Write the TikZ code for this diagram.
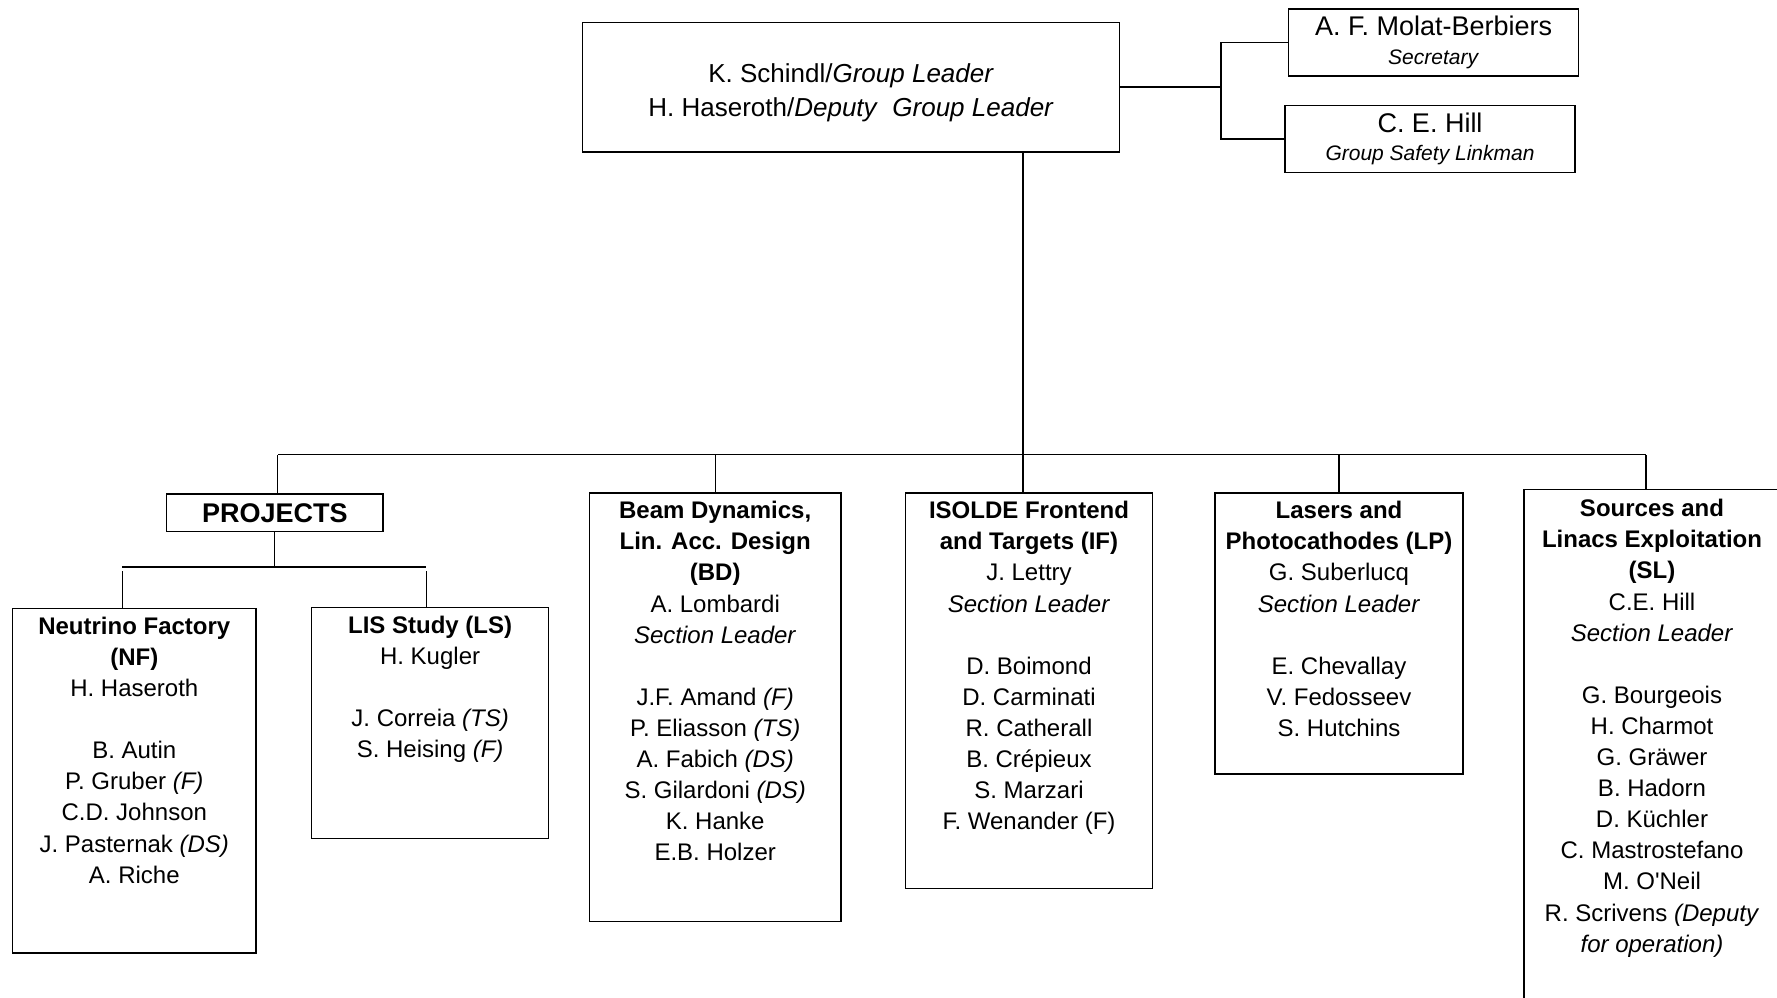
\documentclass[tikz,border=0pt]{standalone}
\usepackage{fontspec}
\setmainfont{Liberation Sans}
\usetikzlibrary{positioning}
\tikzset{
  box/.style={draw, line width=0.7pt, inner sep=0pt},
  txt/.style={align=center, inner sep=0pt, font=\fontsize{12}{15.55}\selectfont, execute at begin node=\strut},
  link/.style={line width=0.6pt},
  bus/.style={line width=0.9pt}
}
\newcommand{\secgap}{\\[15.55pt]}
\begin{document}
\begin{tikzpicture}[x=0.5pt, y=-0.5pt]
    \useasboundingbox (0,0) rectangle (1777,997);
    \clip (0,0) rectangle (1777,997);
    % group leaders
    \node[box, minimum width=268.6pt, minimum height=64.6pt] (lead) at (851.1,87.3) {};
    \node[align=center, inner sep=0pt, font=\fontsize{13}{17}\selectfont, yshift=-2.8pt] (lead-t) at (lead.center)
        {K. Schindl/\textit{Group Leader}\\H. Haseroth/\textit{Deputy}\ \ \textit{Group Leader}};
    \node[box, align=center, minimum width=145pt, minimum height=33.4pt, font=\fontsize{10.5}{14.25}\selectfont] (secr) at (1433.6,42.5)
        {{\fontsize{13.5}{16}\selectfont A. F. Molat-Berbiers}\\\textit{Secretary}};
    \node[box, align=center, minimum width=145pt, minimum height=33.4pt, font=\fontsize{10.5}{14.25}\selectfont] (safety) at (1430,138.9)
        {{\fontsize{13.5}{16}\selectfont C. E. Hill}\\\textit{Group Safety Linkman}};
    % sections
    \node[box, minimum width=108.2pt, minimum height=18.75pt, font=\fontsize{13.5}{16}\selectfont\bfseries] (proj) at (274.8,512.8) {PROJECTS};
    \node[box, minimum width=121.75pt, minimum height=172.2pt] (nufact) at (134.3,780.8) {};
    \node[box, minimum width=118.4pt, minimum height=115.6pt] (lis) at (430.1,723.1) {};
    \node[box, minimum width=125.9pt, minimum height=214.2pt] (beamdyn) at (715.2,707.2) {};
    \node[box, minimum width=123.6pt, minimum height=197.8pt] (isolde) at (1029,690.8) {};
    \node[box, minimum width=124pt, minimum height=140.5pt] (lasers) at (1339,633.5) {};
    \node[box, minimum width=127.9pt, minimum height=270pt] (sources) at (1652,759.6) {};
    % section members
    \node[txt, below=4.3pt of nufact.north] (nufact-t) {\textbf{Neutrino Factory}\\\textbf{(NF)}\\H. Haseroth\secgap
        B. Autin\\P. Gruber \textit{(F)}\\C.D. Johnson\\J. Pasternak \textit{(DS)}\\A. Riche};
    \node[txt, below=4.3pt of lis.north] (lis-t) {\textbf{LIS Study (LS)}\\H. Kugler\secgap
        J. Correia \textit{(TS)}\\S. Heising \textit{(F)}};
    \node[txt, below=4.3pt of beamdyn.north] (beamdyn-t) {\textbf{Beam Dynamics,}\\\textbf{Lin. Acc. Design}\\\textbf{(BD)}\\A. Lombardi\\\textit{Section Leader}\secgap
        J.F. Amand \textit{(F)}\\P. Eliasson \textit{(TS)}\\A. Fabich \textit{(DS)}\\S. Gilardoni \textit{(DS)}\\K. Hanke\\E.B. Holzer};
    \node[txt, below=4.3pt of isolde.north] (isolde-t) {\textbf{ISOLDE Frontend}\\\textbf{and Targets (IF)}\\J. Lettry\\\textit{Section Leader}\secgap
        D. Boimond\\D. Carminati\\R. Catherall\\B. Crépieux\\S. Marzari\\F. Wenander (F)};
    \node[txt, below=4.3pt of lasers.north] (lasers-t) {\textbf{Lasers and}\\\textbf{Photocathodes (LP)}\\G. Suberlucq\\\textit{Section Leader}\secgap
        E. Chevallay\\V. Fedosseev\\S. Hutchins};
    \node[txt, below=5pt of sources.north] (sources-t) {\textbf{Sources and}\\\textbf{Linacs Exploitation}\\\textbf{(SL)}\\C.E. Hill\\\textit{Section Leader}\secgap
        G. Bourgeois\\H. Charmot\\G. Gräwer\\B. Hadorn\\D. Küchler\\C. Mastrostefano\\M. O\textquotesingle Neil\\R. Scrivens \textit{(Deputy}\\\textit{for operation)}};
    % connectors
    \coordinate (tj) at (1221,87.3);
    \coordinate (bus) at (1023,454.5);
    \coordinate (pbus) at (274.8,566.7);
    \coordinate (sldrop) at ([xshift=-3pt]sources.north);
    \draw[bus] (lead.east) -- (tj);
    \draw[bus] (secr.west) -| (tj) |- (safety.west);
    \draw[link] (lead.south -| bus) -- (bus |- isolde.north);
    \draw[bus] ([xshift=1.5pt]proj.north |- bus) -- (sldrop |- bus);
    \foreach \grp in {beamdyn, lasers}{
        \draw[link] (\grp.north) -- (\grp.north |- bus);
    }
    \draw[link] ([xshift=1.5pt]proj.north) -- ([xshift=1.5pt]proj.north |- bus);
    \draw[link] (sldrop) -- (sldrop |- bus);
    \coordinate (nfdrop) at ([xshift=-6pt]nufact.north);
    \coordinate (lsdrop) at ([xshift=-2pt]lis.north);
    \draw[link] (proj.south) -- (proj.south |- pbus);
    \draw[bus] (nfdrop |- pbus) -- (lsdrop |- pbus);
    \draw[link, shorten >=2pt] (nfdrop) -- (nfdrop |- pbus);
    \draw[link, shorten >=2pt] (lsdrop) -- (lsdrop |- pbus);
\end{tikzpicture}
\end{document}
